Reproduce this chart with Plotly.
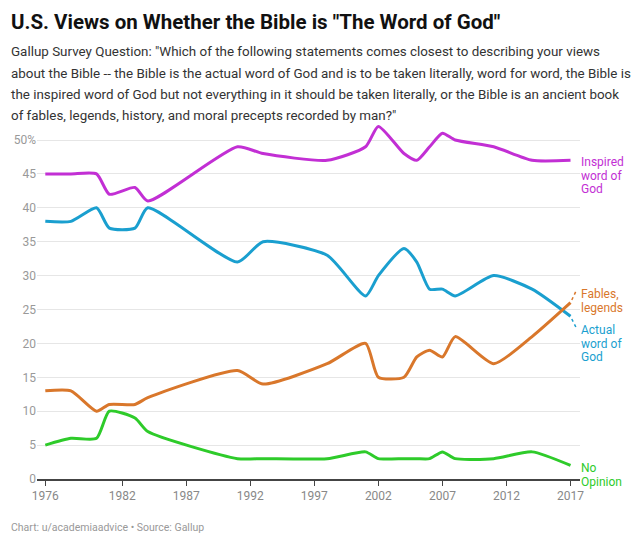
import plotly.graph_objects as go

# ---- data ----
years = [1976, 1978, 1980, 1981, 1983, 1984, 1991, 1993, 1998, 2001, 2002,
         2004, 2005, 2006, 2007, 2008, 2011, 2014, 2017]
inspired = [45, 45, 45, 42, 43, 41, 49, 48, 47, 49, 52, 48, 47, 49, 51, 50, 49, 47, 47]
actual = [38, 38, 40, 37, 37, 40, 32, 35, 33, 27, 30, 34, 32, 28, 28, 27, 30, 28, 24]
fables = [13, 13, 10, 11, 11, 12, 16, 14, 17, 20, 15, 15, 18, 19, 18, 21, 17, 21, 26]
no_opinion = [5, 6, 6, 10, 9, 7, 3, 3, 3, 4, 3, 3, 3, 3, 4, 3, 3, 4, 2]

x_ticks = [1976, 1982, 1987, 1992, 1997, 2002, 2007, 2012, 2017]
y_ticks = [0, 5, 10, 15, 20, 25, 30, 35, 40, 45, 50]
y_ticktext = ["0", "5", "10", "15", "20", "25", "30", "35", "40", "45", "50%"]

title = 'U.S. Views on Whether the Bible is "The Word of God"'
subtitle_lines = [
    'Gallup Survey Question: "Which of the following statements comes closest to describing your views',
    'about the Bible -- the Bible is the actual word of God and is to be taken literally, word for word, the Bible is',
    'the inspired word of God but not everything in it should be taken literally, or the Bible is an ancient book',
    'of fables, legends, history, and moral precepts recorded by man?"',
]
footer = "Chart: u/academiaadvice \u2022 Source: Gallup"

series = [
    ("Inspired word of God", inspired, "#c22fd4", ["Inspired", "word of", "God"]),
    ("Actual word of God", actual, "#1a9fcf", ["Actual", "word of", "God"]),
    ("Fables, legends", fables, "#d9772b", ["Fables,", "legends"]),
    ("No Opinion", no_opinion, "#2ecb2a", ["No", "Opinion"]),
]

# ---- layout geometry ----
W, H = 640, 544
ML, MR, MT, MB = 37, 60, 120, 65
PW, PH = W - ML - MR, H - MT - MB
px_per_year = 12.81
x0 = 1976 - (45.3 - ML) / px_per_year
x1 = x0 + PW / px_per_year
px_per_unit = 6.78
y1 = PH / px_per_unit
FONT = "Roboto"


def paper_x(px):
    return (px - ML) / PW


def paper_y(py):
    return (H - MB - py) / PH


fig = go.Figure()
for name, vals, color, _ in series:
    fig.add_trace(go.Scatter(
        x=years, y=vals, name=name, mode="lines",
        line=dict(color=color, width=3, shape="spline", smoothing=0.6),
        hoverinfo="x+y+name",
    ))

annotations = []
# title / subtitle / footer
annotations.append(dict(text="<b>" + title + "</b>", xref="paper", yref="paper",
                        x=paper_x(9), y=paper_y(22), xanchor="left", yanchor="middle",
                        showarrow=False, font=dict(family=FONT, size=20.5, color="#111")))
for i, line in enumerate(subtitle_lines):
    annotations.append(dict(text=line, xref="paper", yref="paper",
                            x=paper_x(9), y=paper_y(52 + 21 * i), xanchor="left", yanchor="middle",
                            showarrow=False, font=dict(family=FONT, size=13.4, color="#333")))
annotations.append(dict(text=footer, xref="paper", yref="paper",
                        x=paper_x(9), y=paper_y(527), xanchor="left", yanchor="middle",
                        showarrow=False, font=dict(family=FONT, size=10.5, color="#999")))

# end labels: (first-line pixel shift relative to the line's end value)
label_shift = {"Inspired word of God": -2, "Actual word of God": -14,
               "Fables, legends": 8.5, "No Opinion": -3}
for name, vals, color, lines in series:
    for i, ln in enumerate(lines):
        annotations.append(dict(text=ln, xref="x", yref="y", x=years[-1], y=vals[-1],
                                xanchor="left", yanchor="middle", xshift=8,
                                yshift=label_shift[name] - 13.4 * i,
                                showarrow=False, font=dict(family=FONT, size=12, color=color)))

shapes = [
    dict(type="line", xref="x", yref="y", x0=2017.1, y0=26.4, x1=2017.5, y1=28.0,
         line=dict(color="#d9772b", width=1.5, dash="dot")),
    dict(type="line", xref="x", yref="y", x0=2017.1, y0=23.6, x1=2017.5, y1=22.1,
         line=dict(color="#1a9fcf", width=1.5, dash="dot")),
]

fig.update_layout(
    width=W, height=H,
    margin=dict(l=ML, r=MR, t=MT, b=MB),
    paper_bgcolor="white", plot_bgcolor="white",
    showlegend=False,
    font=dict(family=FONT),
    annotations=annotations,
    shapes=shapes,
    xaxis=dict(range=[x0, x1], tickmode="array", tickvals=x_ticks,
               showgrid=False, zeroline=False, showline=True, linecolor="#444", linewidth=1.5,
               ticks="outside", ticklen=5, tickcolor="#444", tickwidth=1,
               tickfont=dict(family=FONT, size=12, color="#888")),
    yaxis=dict(range=[0, y1], tickmode="array", tickvals=y_ticks, ticktext=y_ticktext,
               showgrid=True, gridcolor="#e6e6e6", gridwidth=1, zeroline=False, showline=False,
               ticks="", tickfont=dict(family=FONT, size=12, color="#999")),
)

fig.write_html("out.html")
